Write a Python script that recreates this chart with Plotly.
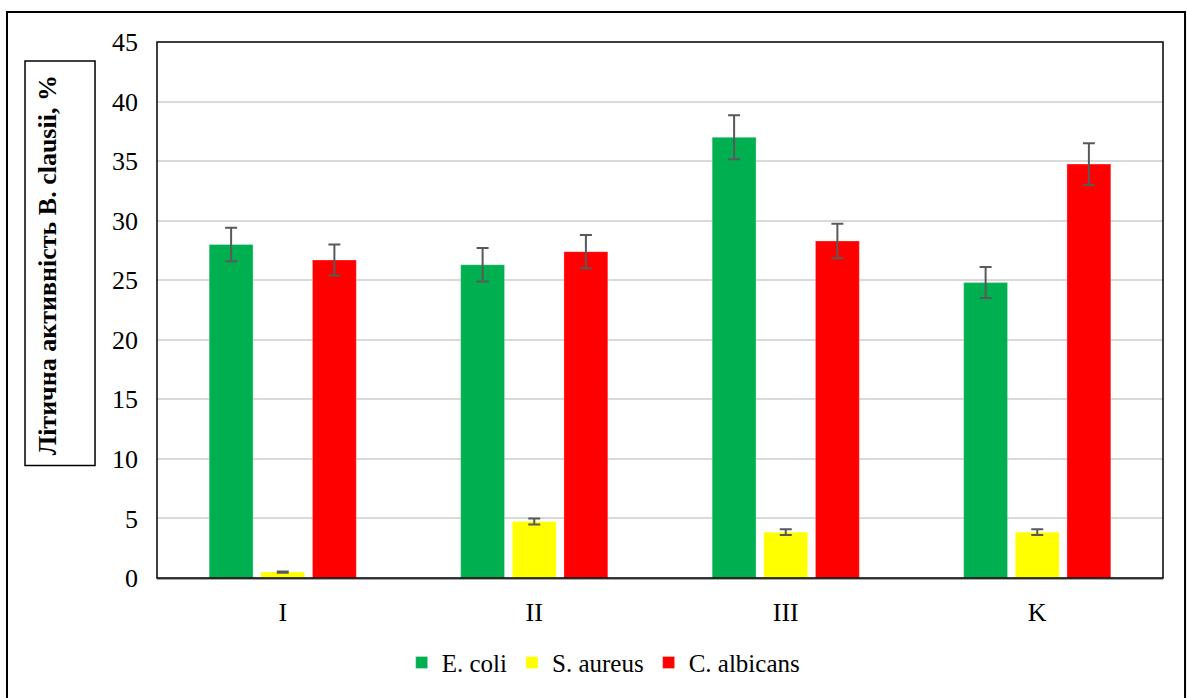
import plotly.graph_objects as go

groups = ["I", "II", "III", "K"]

e_coli = [28.0, 26.3, 37.0, 24.8]
e_coli_err = [1.4, 1.4, 1.85, 1.3]

s_aureus = [0.5, 4.75, 3.85, 3.85]
s_aureus_err = [0.05, 0.25, 0.25, 0.25]

c_albicans = [26.7, 27.4, 28.3, 34.75]
c_albicans_err = [1.3, 1.4, 1.45, 1.75]

series = [
    ("E. coli", e_coli, e_coli_err, "#00B050"),
    ("S. aureus", s_aureus, s_aureus_err, "#FFFF00"),
    ("C. albicans", c_albicans, c_albicans_err, "#FF0000"),
]

font_name = "Liberation Serif, Times New Roman, serif"

fig = go.Figure()

for name, vals, errs, color in series:
    fig.add_trace(go.Bar(
        name=name,
        x=groups,
        y=vals,
        marker=dict(color=color, line=dict(color="rgba(255,255,255,0.6)", width=0.5)),
        error_y=dict(type="data", array=errs, visible=True,
                     color="#595959", thickness=2, width=6),
    ))

fig.update_layout(
    width=1187, height=698,
    barmode="group",
    bargap=0.384,
    bargroupgap=0.15,
    plot_bgcolor="white",
    paper_bgcolor="white",
    margin=dict(l=157, r=24, t=42, b=118),
    font=dict(family=font_name, color="black", size=26),
    showlegend=True,
    legend=dict(orientation="h", x=0.444, xanchor="center", y=-0.158, yanchor="middle",
                font=dict(size=25, family=font_name), itemwidth=30,
                traceorder="normal"),
)

fig.update_yaxes(range=[0, 45], dtick=5, showgrid=True, gridcolor="#D9D9D9", gridwidth=1.5,
                 zeroline=False, showline=False, ticks="", ticklabelstandoff=18,
                 tickfont=dict(size=26, family=font_name))
fig.update_xaxes(showline=True, linecolor="#A6A6A6", linewidth=2, ticks="",
                 tickfont=dict(size=26, family=font_name), ticklabelstandoff=10)

# plot area frame
fig.add_shape(type="rect", xref="paper", yref="paper", x0=0, x1=1, y0=0, y1=1,
              line=dict(color="black", width=1.5), layer="above")

# outer frame around the whole chart
fig.add_shape(type="rect", xref="paper", yref="paper", x0=-0.1491, x1=1.0219,
              y0=-0.35, y1=1.0558, line=dict(color="black", width=2))

# boxed y axis title
fig.add_shape(type="rect", xref="paper", yref="paper", x0=-0.1312, x1=-0.0616,
              y0=0.210, y1=0.9647, line=dict(color="black", width=1.5))
fig.add_annotation(text="<b>Літична активність B. clausii, %</b>", textangle=-90,
                   xref="paper", yref="paper", x=-0.1093, y=0.5836,
                   xanchor="center", yanchor="middle", showarrow=False,
                   font=dict(size=26, family=font_name, color="black"))

# drop the default page margin so the chart sits at the window corner
fig.write_html("out.html", config={"displayModeBar": False},
               post_script="document.body.style.margin='0';")
